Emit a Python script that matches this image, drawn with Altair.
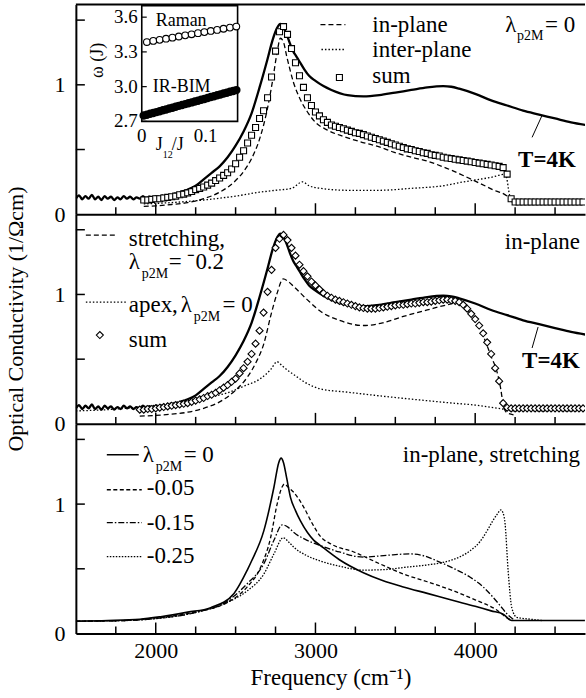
import altair as alt
import pandas as pd

SERIF = "Liberation Serif, Times New Roman, serif"
XMIN, XMAX = 1500, 4687.5
YMAX = 1.62
W, H = 510, 210

# ---------------- data ----------------
# experimental spectrum, T = 4K (top and middle panels)
EXP_F = [1500,1520,1540,1560,1580,1600,1620,1640,1660,1680,1700,1720,1740,1760,1780,1800,1820,1840,1860,1880,
         1900,1920,1940,1960,1980,2000,2020,2040,2060,2080,2100,2120,2140,2160,2180,2200,2250,2300,2350,2400,
         2450,2500,2550,2600,2650,2700,2730,2760,2780,2800,2820,2840,2860,2880,2900,2930,2960,3000,3050,3100,
         3200,3300,3400,3500,3600,3700,3800,3850,3900,4000,4100,4200,4300,4400,4500,4600,4690]
EXP_V = [0.12,0.145,0.115,0.14,0.12,0.15,0.115,0.135,0.11,0.14,0.12,0.135,0.11,0.13,0.115,0.14,0.12,0.135,0.115,0.13,
         0.12,0.14,0.12,0.135,0.12,0.14,0.125,0.145,0.13,0.15,0.14,0.16,0.155,0.175,0.18,0.19,0.22,0.27,0.32,0.37,
         0.44,0.53,0.64,0.78,0.98,1.20,1.34,1.44,1.47,1.44,1.39,1.32,1.26,1.22,1.18,1.12,1.07,1.03,0.99,0.96,
         0.92,0.91,0.92,0.94,0.96,0.98,0.99,0.985,0.97,0.93,0.88,0.84,0.80,0.77,0.74,0.71,0.69]

# top panel: in-plane, inter-plane, sum
P1_INPLANE_F = [1925,2000,2100,2200,2300,2400,2500,2550,2600,2650,2700,2730,2760,2780,2800,2820,2840,2862,2900,2950,
                3000,3075,3177,3281,3400,3489,3600,3700,3802,3906,4010,4110,4208,4240]
P1_INPLANE_V = [0.06,0.065,0.075,0.09,0.12,0.17,0.26,0.33,0.43,0.58,0.82,1.02,1.25,1.36,1.33,1.22,1.12,1.02,0.90,0.79,
                0.71,0.65,0.60,0.56,0.52,0.48,0.44,0.41,0.365,0.31,0.25,0.19,0.13,0.08]
P1_INTER_F = [1925,2100,2300,2500,2650,2750,2850,2920,2960,3030,3200,3400,3600,3800,3906,4000,4100,4190,4215,4240]
P1_INTER_V = [0.08,0.09,0.11,0.14,0.17,0.185,0.20,0.25,0.22,0.20,0.185,0.185,0.20,0.22,0.245,0.265,0.285,0.31,0.15,0.085]
P1_SUM_F = list(range(1925, 4700, 25))
P1_SUM_V = [0.11,0.11,0.115,0.12,0.12,0.125,0.13,0.135,0.14,0.15,
            0.155,0.165,0.175,0.19,0.20,0.21,0.225,0.24,0.26,0.28,
            0.30,0.32,0.35,0.39,0.44,0.49,0.55,0.61,0.67,0.74,
            0.80,0.90,1.06,1.26,1.41,1.45,1.39,1.28,1.17,1.07,
            0.98,0.90,0.84,0.79,0.76,0.73,0.71,0.69,0.68,0.67,
            0.66,0.65,0.64,0.63,0.625,0.615,0.605,0.595,0.585,0.575,
            0.565,0.555,0.545,0.535,0.525,0.515,0.505,0.50,0.49,0.485,
            0.475,0.47,0.46,0.455,0.45,0.44,0.435,0.43,0.425,0.42,
            0.415,0.41,0.405,0.40,0.395,0.39,0.385,0.38,0.375,0.37,
            0.36,0.31,0.12,0.095,0.095,0.095,0.095,0.095,0.095,0.095,
            0.095,0.095,0.095,0.095,0.095,0.095,0.095,0.095,0.095,0.095,
            0.095]

# inset
RAMAN_J = [0.008,0.018,0.028,0.038,0.048,0.058,0.068,0.078,0.088,0.098,0.108,0.118,0.128,0.138,0.148]
RAMAN_W = [3.385,3.395,3.404,3.414,3.423,3.433,3.443,3.452,3.462,3.471,3.481,3.490,3.500,3.510,3.519]
IR_J = [0.003,0.008,0.013,0.018,0.023,0.028,0.033,0.038,0.043,0.048,0.053,0.058,0.063,0.068,0.073,
        0.078,0.083,0.088,0.093,0.098,0.103,0.108,0.113,0.118,0.123,0.128,0.133,0.138,0.143,0.148]
IR_W = [2.750,2.758,2.765,2.773,2.780,2.788,2.796,2.803,2.811,2.818,2.826,2.834,2.841,2.849,2.856,
        2.864,2.872,2.879,2.887,2.894,2.902,2.910,2.917,2.925,2.932,2.940,2.948,2.955,2.963,2.970]
INSET_YTICKS = [2.7, 3.0, 3.3, 3.6]
INSET_YLABELS = ["2.7", "3.0", "3.3", "3.6"]
INSET_XTICKS = [0.0, 0.1]
INSET_XLABELS = ["0", "0.1"]

# middle panel: stretching (-0.2), apex (0), sum
P2_STRETCH_F = [1900,2000,2100,2200,2300,2400,2500,2573,2630,2677,2719,2760,2798,2830,2865,2948,3031,3150,3300,3420,
                3550,3700,3825,3888,3940,3988,4050,4100,4137,4160,4175,4195,4240]
P2_STRETCH_V = [0.06,0.065,0.075,0.09,0.12,0.17,0.26,0.36,0.48,0.62,0.83,1.01,1.12,1.10,1.06,0.96,0.87,0.80,0.76,0.78,
                0.83,0.88,0.92,0.935,0.90,0.81,0.68,0.52,0.40,0.27,0.15,0.09,0.07]
P2_APEX_F = [1500,1700,1900,2031,2200,2350,2448,2550,2656,2720,2760,2790,2830,2865,2950,3031,3200,3450,3650,3863,
             4000,4169,4250,4687]
P2_APEX_V = [0.10,0.11,0.13,0.15,0.18,0.21,0.24,0.29,0.35,0.42,0.48,0.45,0.41,0.38,0.31,0.27,0.245,0.21,0.185,0.16,
             0.145,0.115,0.10,0.10]
P2_SUM_F = list(range(1900, 4700, 25))
P2_SUM_V = [0.11,0.11,0.115,0.115,0.12,0.125,0.13,0.135,0.14,0.145,
            0.15,0.155,0.16,0.17,0.18,0.19,0.20,0.215,0.225,0.24,
            0.26,0.28,0.30,0.325,0.35,0.39,0.43,0.48,0.54,0.62,
            0.72,0.86,1.02,1.19,1.36,1.43,1.46,1.42,1.36,1.30,
            1.23,1.18,1.14,1.10,1.07,1.04,1.01,0.99,0.975,0.96,
            0.95,0.94,0.93,0.92,0.91,0.90,0.895,0.89,0.89,0.89,
            0.895,0.90,0.905,0.91,0.915,0.92,0.92,0.925,0.93,0.93,
            0.935,0.94,0.94,0.945,0.95,0.955,0.96,0.96,0.955,0.95,
            0.94,0.92,0.89,0.85,0.81,0.76,0.70,0.63,0.54,0.43,
            0.33,0.16,0.125,0.12,0.12,0.12,0.12,0.12,0.12,0.12,
            0.12,0.12,0.12,0.12,0.12,0.12,0.12,0.12,0.12,0.12,
            0.12,0.12]

# bottom panel: in-plane stretching for several lambda
P3_L0_F = [1500,1700,1900,2031,2200,2344,2490,2573,2600,2677,2740,2770,2785,2800,2820,2844,2875,2906,2950,2990,
           3031,3150,3300,3420,3550,3700,3863,4000,4100,4175,4219,4240,4687]
P3_L0_V = [0.095,0.10,0.11,0.13,0.165,0.20,0.31,0.49,0.56,0.795,1.13,1.32,1.355,1.32,1.20,1.05,0.95,0.87,0.78,0.72,
           0.68,0.57,0.47,0.41,0.36,0.31,0.255,0.21,0.175,0.15,0.105,0.10,0.10]
P3_L005_F = [1500,1800,2000,2240,2448,2573,2656,2719,2760,2790,2806,2830,2865,2927,2980,3031,3100,3240,3400,3550,
             3700,3863,4000,4137,4200,4230]
P3_L005_V = [0.095,0.10,0.12,0.165,0.24,0.36,0.51,0.74,1.00,1.13,1.155,1.13,1.09,0.975,0.85,0.75,0.69,0.63,0.54,0.46,
             0.40,0.33,0.26,0.18,0.12,0.10]
P3_L015_F = [1500,1800,2000,2240,2448,2573,2677,2740,2792,2830,2865,2948,3031,3150,3300,3450,3594,3680,3763,3870,
             3969,4050,4112,4160,4200,4250]
P3_L015_V = [0.095,0.10,0.115,0.16,0.25,0.385,0.54,0.72,0.84,0.82,0.78,0.72,0.68,0.63,0.59,0.605,0.615,0.60,0.56,0.50,
             0.435,0.36,0.28,0.21,0.15,0.10]
P3_L025_F = [1500,1800,2000,2240,2448,2573,2677,2740,2798,2830,2865,2948,3031,3150,3300,3450,3550,3700,3800,3900,
             3969,4030,4075,4110,4137,4160,4175,4187,4206,4229,4260,4350,4420]
P3_L025_V = [0.095,0.10,0.115,0.16,0.24,0.33,0.46,0.615,0.74,0.71,0.666,0.60,0.56,0.52,0.49,0.495,0.51,0.53,0.55,0.59,
             0.64,0.71,0.795,0.87,0.92,0.955,0.93,0.85,0.49,0.20,0.125,0.11,0.10]

MAJOR_TICKS = [2000, 3000, 4000]
MINOR_TICKS = [1750, 2250, 2500, 2750, 3250, 3500, 3750, 4250, 4500]
Y_TICKS = [0.5, 1.0, 1.5]

for a, b in [(EXP_F, EXP_V), (P1_INPLANE_F, P1_INPLANE_V), (P1_INTER_F, P1_INTER_V), (P1_SUM_F, P1_SUM_V),
             (RAMAN_J, RAMAN_W), (IR_J, IR_W), (P2_STRETCH_F, P2_STRETCH_V), (P2_APEX_F, P2_APEX_V),
             (P2_SUM_F, P2_SUM_V), (P3_L0_F, P3_L0_V), (P3_L005_F, P3_L005_V), (P3_L015_F, P3_L015_V),
             (P3_L025_F, P3_L025_V)]:
    assert len(a) == len(b), (len(a), len(b))

# ---------------- helpers ----------------
ONE = pd.DataFrame({"k": [0]})
XS = alt.Scale(domain=[XMIN, XMAX], nice=False, zero=False)
YS = alt.Scale(domain=[0, YMAX], nice=False, zero=False)

AX_NOLAB = alt.Axis(labels=False, ticks=False, title=None, grid=False, domainWidth=2, domainColor="black")
AX_BOTTOM = alt.Axis(values=MAJOR_TICKS, format="d", ticks=False, grid=False, domainWidth=2, domainColor="black",
                     labelFont=SERIF, labelFontSize=22, labelColor="black", labelPadding=7,
                     title="Frequency (cm⁻¹)", titleFont=SERIF, titleFontSize=23, titleFontWeight="normal",
                     titleColor="black", titlePadding=5)
AY = alt.Axis(values=[0, 1], format="d", ticks=False, grid=False, domainWidth=2, domainColor="black",
              labelFont=SERIF, labelFontSize=22, labelColor="black", labelPadding=11, title=None)


def enc(ax):
    return dict(x=alt.X("f:Q", scale=XS, axis=ax), y=alt.Y("v:Q", scale=YS, axis=AY))


def curve(F, V, ax, dash=None, width=1.3):
    kw = dict(interpolate="monotone", clip=True, color="black", strokeWidth=width)
    if dash:
        kw["strokeDash"] = dash
    return alt.Chart(pd.DataFrame({"f": F, "v": V})).mark_line(**kw).encode(**enc(ax))


def markers(F, V, ax, shape, size):
    return alt.Chart(pd.DataFrame({"f": F, "v": V})).mark_point(
        shape=shape, size=size, filled=True, fill="white", stroke="black", strokeWidth=1.1, opacity=1, clip=True
    ).encode(**enc(ax))


def ticks(ax):
    maj = alt.Chart(pd.DataFrame({"f": MAJOR_TICKS})).mark_rule(color="black", strokeWidth=1.5).encode(
        x=alt.X("f:Q", scale=XS, axis=ax), y=alt.value(H), y2=alt.value(H - 11))
    mnr = alt.Chart(pd.DataFrame({"f": MINOR_TICKS})).mark_rule(color="black", strokeWidth=1.5).encode(
        x=alt.X("f:Q", scale=XS, axis=ax), y=alt.value(H), y2=alt.value(H - 7))
    yt = alt.Chart(pd.DataFrame({"v": Y_TICKS})).mark_rule(color="black", strokeWidth=1.5).encode(
        y=alt.Y("v:Q", scale=YS, axis=AY), x=alt.value(0), x2=alt.value(9))
    return [maj, mnr, yt]


def text(s, x, y, size=23, align="left", weight="normal", angle=None, baseline="alphabetic"):
    kw = dict(text=s, align=align, baseline=baseline, fontSize=size, font=SERIF, fontWeight=weight, color="black")
    if angle is not None:
        kw["angle"] = angle
    return alt.Chart(ONE).mark_text(**kw).encode(x=alt.value(x), y=alt.value(y))


def seg(x1, x2, y1, y2=None, dash=None, width=1.3):
    kw = dict(color="black", strokeWidth=width)
    if dash:
        kw["strokeDash"] = dash
    e = dict(x=alt.value(x1), x2=alt.value(x2), y=alt.value(y1))
    if y2 is not None:
        e["y2"] = alt.value(y2)
    return alt.Chart(ONE).mark_rule(**kw).encode(**e)


def sym(x, y, shape, size):
    return alt.Chart(ONE).mark_point(shape=shape, size=size, filled=True, fill="white", stroke="black",
                                     strokeWidth=1.1, opacity=1).encode(x=alt.value(x), y=alt.value(y))


DASH = [5, 3]
DOT = [1.5, 2]
DASHDOT = [6, 2, 1.5, 2]

# ---------------- top panel ----------------
p1_main = alt.layer(
    curve(EXP_F, EXP_V, AX_NOLAB, width=2.3),
    curve(P1_INPLANE_F, P1_INPLANE_V, AX_NOLAB, dash=DASH),
    curve(P1_INTER_F, P1_INTER_V, AX_NOLAB, dash=DOT),
    markers(P1_SUM_F, P1_SUM_V, AX_NOLAB, "square", 36),
    *ticks(AX_NOLAB),
    seg(0, W, 0, width=2),
    seg(245, 270, 20, dash=DASH), text("in-plane", 297, 27),
    seg(246, 270, 45, dash=DOT), text("inter-plane", 297, 53),
    sym(264, 73, "square", 36), text("sum", 297, 79),
    text("λ", 430, 27), text("p2M", 442, 35, size=14), text("= 0", 470, 27),
    text("T=4K", 443, 163, weight="bold"), seg(467, 457, 111, 133, width=1),
)

IXS = alt.Scale(domain=[0, 0.15], range=[66, 162], nice=False, zero=False)
IYS = alt.Scale(domain=[2.7, 3.7], range=[117, 1], nice=False, zero=False)


def ienc():
    return dict(x=alt.X("j:Q", scale=IXS, axis=None), y=alt.Y("w:Q", scale=IYS, axis=None))


inset = alt.layer(
    alt.Chart(ONE).mark_rect(fill="white", stroke="black", strokeWidth=1.6).encode(
        x=alt.value(66), x2=alt.value(162), y=alt.value(1), y2=alt.value(117)),
    alt.Chart(pd.DataFrame({"j": IR_J, "w": IR_W})).mark_point(
        shape="circle", size=42, filled=True, fill="black", stroke="black", opacity=1).encode(**ienc()),
    alt.Chart(pd.DataFrame({"j": RAMAN_J, "w": RAMAN_W})).mark_point(
        shape="circle", size=45, filled=True, fill="white", stroke="black", strokeWidth=1.1, opacity=1).encode(**ienc()),
    alt.Chart(pd.DataFrame({"w": INSET_YTICKS, "lab": INSET_YLABELS})).mark_text(
        align="right", baseline="middle", fontSize=19, font=SERIF, color="black").encode(
        y=alt.Y("w:Q", scale=IYS, axis=None), x=alt.value(62), text="lab:N"),
    alt.Chart(pd.DataFrame({"w": INSET_YTICKS})).mark_rule(color="black", strokeWidth=1.2).encode(
        y=alt.Y("w:Q", scale=IYS, axis=None), x=alt.value(66), x2=alt.value(71)),
    alt.Chart(pd.DataFrame({"j": INSET_XTICKS, "lab": INSET_XLABELS})).mark_text(
        align="center", baseline="middle", fontSize=19, font=SERIF, color="black").encode(
        x=alt.X("j:Q", scale=IXS, axis=None), y=alt.value(132), text="lab:N"),
    text("Raman", 80, 21, size=18),
    text("IR-BIM", 77, 88, size=18),
    text("ω (J)", 22, 56, size=18, align="center", angle=270, baseline="middle"),
    text("J", 80, 146, size=18), text("12", 87, 154, size=10), text("/J", 96, 146, size=18),
)

p1 = alt.layer(p1_main, inset).resolve_scale(x="independent", y="independent").properties(width=W, height=H)

# ---------------- middle panel ----------------
p2 = alt.layer(
    curve(EXP_F, EXP_V, AX_NOLAB, width=2.3),
    curve(P2_STRETCH_F, P2_STRETCH_V, AX_NOLAB, dash=DASH),
    curve(P2_APEX_F, P2_APEX_V, AX_NOLAB, dash=DOT),
    markers(P2_SUM_F, P2_SUM_V, AX_NOLAB, "diamond", 50),
    *ticks(AX_NOLAB),
    seg(10, 42, 21, dash=DASH), text("stretching,", 53, 32),
    text("λ", 53, 55), text("p2M", 66, 64, size=14), text("= ⁻0.2", 93, 55),
    seg(10, 50, 88, dash=DOT), text("apex,", 53, 98),
    text("λ", 105, 98), text("p2M", 118, 107, size=14), text("= 0", 147, 98),
    sym(24, 121, "diamond", 50), text("sum", 53, 133),
    text("in-plane", 505, 35, align="right"),
    text("T=4K", 447, 154, weight="bold"), seg(463, 457, 113, 134, width=1),
    text("Optical Conductivity (1/Ωcm)", -60, 105, size=22, align="center", angle=270, baseline="middle"),
).properties(width=W, height=H)

# ---------------- bottom panel ----------------
p3 = alt.layer(
    curve(P3_L0_F, P3_L0_V, AX_BOTTOM, width=1.6),
    curve(P3_L005_F, P3_L005_V, AX_BOTTOM, dash=[4, 2.5]),
    curve(P3_L015_F, P3_L015_V, AX_BOTTOM, dash=DASHDOT),
    curve(P3_L025_F, P3_L025_V, AX_BOTTOM, dash=[1.5, 1.5]),
    *ticks(AX_BOTTOM),
    seg(31, 63, 31, width=1.6), text("λ", 67, 38), text("p2M", 80, 47, size=14), text("= 0", 108, 38),
    seg(31, 66, 66, dash=[4, 2.5]), text("-0.05", 71, 71),
    seg(31, 66, 99, dash=DASHDOT), text("-0.15", 71, 106),
    seg(31, 66, 133, dash=[1.5, 1.5]), text("-0.25", 71, 139),
    text("in-plane, stretching", 505, 38, align="right"),
).properties(width=W, height=H)

chart = alt.vconcat(p1, p2, p3, spacing=0, bounds="flush").properties(
    padding={"left": 4, "top": 3, "right": 0, "bottom": 0}
).configure_view(stroke=None).configure_axis(grid=False)

chart.save("out.html", embed_options={"renderer": "svg", "actions": False})
